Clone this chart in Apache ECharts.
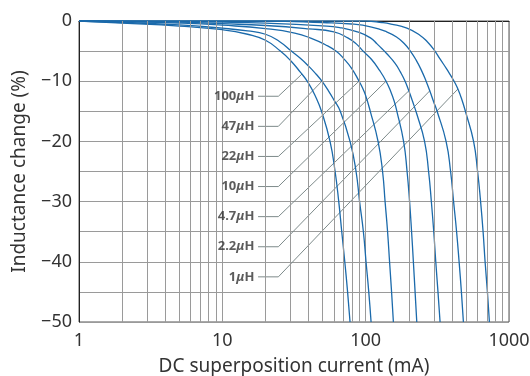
<!DOCTYPE html>
<html>
<head>
<meta charset="utf-8">
<script src="https://cdn.jsdelivr.net/npm/echarts@6/dist/echarts.min.js"></script>
<style>
html,body{margin:0;padding:0;background:#fff;}
#chart{width:530px;height:376px;}
</style>
</head>
<body>
<div id="chart"></div>
<script>
// Inductance names (one per curve)
const inductances = ['100μH', '47μH', '22μH', '10μH', '4.7μH', '2.2μH', '1μH'];

// Curves: [DC current (mA), inductance change (%)]
const curve100 = [[1,0],[2,-0.35],[5,-0.85],[10,-1.45],[15,-2.2],[20,-3.2],[25.4,-5],[30,-6.6],[35,-8.5],[39.6,-10.2],[45,-12.7],[49.2,-15],[56.4,-20],[61.2,-25],[64.9,-30],[68.1,-35],[71.5,-40],[74.8,-45],[77.8,-50]];
const curve47 = [[1,0],[2,-0.25],[5,-0.65],[10,-1.2],[15,-1.65],[20,-2.2],[25,-3.4],[30.3,-5],[35,-6.2],[40,-7.5],[45,-8.8],[49.5,-10],[55,-11.6],[60,-13.1],[66.5,-15],[77.8,-20],[85.7,-25],[90.7,-30],[96.4,-35],[100.6,-40],[105.1,-45],[109.1,-50]];
const curve22 = [[1,0],[2,-0.1],[5,-0.35],[10,-0.7],[20,-1.25],[32,-2],[43,-3],[52,-3.9],[62,-5],[70,-6.2],[80,-7.9],[89.9,-10],[95,-11.1],[100,-12.4],[107.7,-15],[122,-20],[131.2,-25],[136.6,-30],[142.2,-35],[146.8,-40],[151.6,-45],[156.1,-50]];
const curve10 = [[1,0],[5,-0.2],[10,-0.45],[20,-0.75],[40,-1.3],[60,-1.8],[75,-2.8],[86,-3.8],[96,-5],[110,-6.4],[125,-8.2],[138.8,-10],[150,-11.8],[158,-13.3],[165.1,-15],[183.9,-20],[194.5,-25],[202.5,-30],[209.1,-35],[215.2,-40],[221.2,-45],[227.3,-50]];
const curve4_7 = [[1,0],[10,-0.2],[20,-0.35],[50,-0.8],[66,-1.1],[90,-1.9],[108,-2.8],[120,-3.8],[130,-4.6],[140,-5.4],[160,-7.0],[175,-8.5],[188.4,-10],[200,-11.6],[212,-13.3],[227.7,-15.5],[257.6,-20],[274.8,-25],[287.3,-30],[298.6,-35],[308.4,-40],[319.5,-45],[330.5,-50]];
const curve2_2 = [[1,0],[20,0],[50,-0.25],[80,-0.5],[110,-1],[140,-1.8],[165,-2.7],[185,-3.7],[205,-5],[225,-6.5],[245,-8.2],[264,-10],[280,-11.6],[298,-13.4],[315,-15],[363.9,-20],[391.3,-25],[410.6,-30],[430.9,-35],[448.6,-40],[465.5,-45],[480.7,-50]];
const curve1 = [[1,0],[100,0],[130,-0.25],[150,-0.5],[194,-1.2],[240,-2.4],[270,-3.5],[300,-4.8],[330,-6.3],[368,-8.0],[414,-10],[440,-11.3],[465,-12.8],[496.4,-15],[566.1,-20],[603.8,-25],[633.6,-30],[659.6,-35],[681.1,-40],[707,-45],[730,-50]];
const curves = [curve100, curve47, curve22, curve10, curve4_7, curve2_2, curve1];

// Label anchor levels (%) and the point on each curve the leader line reaches
const labelLevels = [-12.5, -17.5, -22.5, -27.5, -32.5, -37.5, -42.5];
const leaderEnds = [[36,-8.8],[49.5,-10],[89.9,-10],[138.8,-10],[200,-11.6],[280,-11.6],[440,-11.3]];
const labelX = 17.75;   // mA, right end of label / start of leader
const bendX = 24.6;     // mA, where the leader turns diagonal

// Axis tick values
const xMinorGrid = [2,3,4,5,6,7,8,9,20,30,40,50,60,70,80,90,200,300,400,500,600,700,800,900];
const yMin = -50, yMax = 0, yStep = 5;

const FONT = 'Noto Sans';
const chart = echarts.init(document.getElementById('chart'), null, {renderer: 'canvas'});

const series = [];
// minor vertical grid lines
series.push({
  type: 'line', data: [], silent: true, z: 1,
  markLine: {
    silent: true, symbol: ['none', 'none'], animation: false,
    label: {show: false},
    lineStyle: {color: '#9a9a9a', type: 'solid', width: 1},
    emphasis: {disabled: true},
    data: xMinorGrid.map(v => ({xAxis: v}))
  }
});
// leader lines
inductances.forEach((name, i) => {
  series.push({
    type: 'line', silent: true, z: 3, symbol: 'none', animation: false,
    lineStyle: {color: '#7d8a8a', width: 1},
    data: [[labelX, labelLevels[i]], [bendX, labelLevels[i]], leaderEnds[i]]
  });
});
// labels
series.push({
  type: 'scatter', silent: true, z: 5, symbolSize: 1, animation: false,
  itemStyle: {color: 'rgba(0,0,0,0)'},
  data: inductances.map((n, i) => ({
    value: [labelX, labelLevels[i]],
    label: {
      show: true, position: 'left', distance: 3,
      formatter: '{n|' + n.replace('μH', '') + '}{u|μ}{n|H}',
      rich: {
        n: {fontFamily: FONT, fontSize: 13, fontWeight: 'bold', color: '#333'},
        u: {fontFamily: FONT, fontSize: 13, fontWeight: 'bold', fontStyle: 'italic', color: '#333'}
      }
    }
  }))
});
// curves
curves.forEach((c, i) => {
  series.push({
    name: inductances[i], type: 'line', z: 4, symbol: 'none', animation: false,
    smooth: 0.5,
    lineStyle: {color: '#1b6aab', width: 1.3},
    data: c
  });
});

chart.setOption({
  animation: false,
  grid: {left: 79, top: 21, right: 21, bottom: 54, show: true, borderColor: '#555', borderWidth: 1,
         containLabel: false, outerBoundsMode: 'none'},
  xAxis: {
    type: 'log', logBase: 10, min: 1, max: 1000,
    name: 'DC superposition current (mA)', nameLocation: 'middle', nameGap: 35,
    nameTextStyle: {fontFamily: FONT, fontSize: 19, color: '#333'},
    axisLine: {lineStyle: {color: '#222', width: 1}},
    axisTick: {show: false},
    axisLabel: {fontFamily: FONT, fontSize: 18, color: '#333', margin: 10, formatter: v => String(v)},
    splitLine: {show: true, lineStyle: {color: '#9a9a9a', width: 1}}
  },
  yAxis: {
    type: 'value', min: yMin, max: yMax, interval: yStep,
    name: 'Inductance change (%)', nameLocation: 'middle', nameRotate: 90, nameGap: 50,
    nameTextStyle: {fontFamily: FONT, fontSize: 19, color: '#333'},
    axisLine: {show: true, lineStyle: {color: '#222', width: 1}},
    axisTick: {show: false},
    axisLabel: {
      fontFamily: FONT, fontSize: 18, color: '#333', margin: 7,
      formatter: v => (v % 10 === 0 ? String(v).replace('-', '−') : '')
    },
    splitLine: {show: true, lineStyle: {color: '#9a9a9a', width: 1}}
  },
  series: series
});
</script>
</body>
</html>
